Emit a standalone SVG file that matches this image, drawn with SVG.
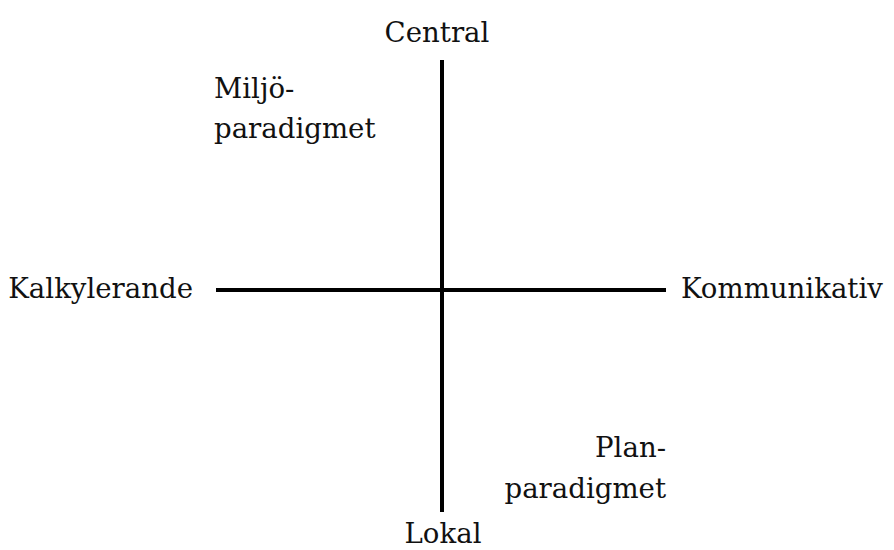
<svg xmlns="http://www.w3.org/2000/svg" width="894" height="550" viewBox="0 0 894 550">
<style>
text{font-family:"DejaVu Serif","Liberation Serif",serif;font-size:27.6px;fill:#111}
.ax{stroke:#000;stroke-width:4;fill:none}
</style>
<rect width="894" height="550" fill="#fff"/>
<g id="connectors">
<line class="ax" x1="442" y1="60" x2="442" y2="512"/>
<line class="ax" x1="216" y1="290" x2="666" y2="290"/>
</g>
<g id="central"><text x="437" y="42" text-anchor="middle">Central</text></g>
<g id="lokal"><text x="443" y="543" text-anchor="middle">Lokal</text></g>
<g id="kalkylerande"><text x="193" y="298" text-anchor="end">Kalkylerande</text></g>
<g id="kommunikativ"><text x="681" y="298">Kommunikativ</text></g>
<g id="miljo"><text x="214" y="98">Miljö-</text><text x="214" y="138">paradigmet</text></g>
<g id="plan"><text x="666" y="457" text-anchor="end">Plan-</text><text x="666" y="498" text-anchor="end">paradigmet</text></g>
</svg>
